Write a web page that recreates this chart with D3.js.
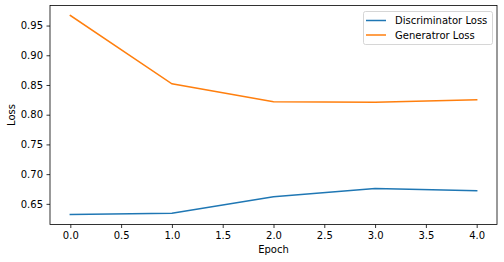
<!DOCTYPE html>
<html>
<head>
<meta charset="utf-8">
<script src="https://cdn.jsdelivr.net/npm/d3@7"></script>
<style>
  body { margin: 0; background: #fff; }
  svg { display: block; font-family: "DejaVu Sans", sans-serif; }
</style>
</head>
<body>
<svg id="graph" width="504" height="262"></svg>
<script>
const epochs = [0, 1, 2, 3, 4];
const discLoss = [0.632, 0.634, 0.662, 0.676, 0.672];
const genLoss = [0.967, 0.852, 0.822, 0.821, 0.825];
const xTicks = [0, 0.5, 1, 1.5, 2, 2.5, 3, 3.5, 4];
const yTicks = [0.65, 0.70, 0.75, 0.80, 0.85, 0.90, 0.95];
const seriesNames = ["Discriminator Loss", "Generatror Loss"];
const colors = ["#1f77b4", "#ff7f0e"];

const svg = d3.select("#graph");
const plotLeft = 50, plotRight = 497, plotTop = 5.5, plotBottom = 224.5;

// matplotlib style 5% margins
const yMin = d3.min(discLoss.concat(genLoss)), yMax = d3.max(discLoss.concat(genLoss));
const yPad = (yMax - yMin) * 0.05;
const x = d3.scaleLinear().domain([-0.2, 4.2]).range([plotLeft, plotRight]);
const y = d3.scaleLinear().domain([yMin - yPad, yMax + yPad]).range([plotBottom, plotTop]);

const xAxis = svg.append("g")
    .attr("transform", "translate(0," + plotBottom + ")")
    .call(d3.axisBottom(x).tickValues(xTicks).tickFormat(d3.format(".1f")).tickSize(3.5).tickPadding(3.5));
const yAxis = svg.append("g")
    .attr("transform", "translate(" + plotLeft + ",0)")
    .call(d3.axisLeft(y).tickValues(yTicks).tickFormat(d3.format(".2f")).tickSize(3.5).tickPadding(3.5));

[xAxis, yAxis].forEach(function(a) {
    a.select(".domain").remove();
    a.selectAll("line").attr("stroke", "#000").attr("stroke-width", 0.8);
    a.selectAll("text").attr("fill", "#000").style("font-size", "10px")
        .style("font-family", "DejaVu Sans, sans-serif");
});

// frame
svg.append("rect")
    .attr("x", plotLeft).attr("y", plotTop)
    .attr("width", plotRight - plotLeft).attr("height", plotBottom - plotTop)
    .attr("fill", "none").attr("stroke", "#000").attr("stroke-width", 0.8);

const line = d3.line()
    .x(function(d, i) { return x(epochs[i]); })
    .y(function(d) { return y(d); });

[discLoss, genLoss].forEach(function(s, i) {
    svg.append("path")
        .datum(s)
        .attr("d", line)
        .attr("fill", "none")
        .attr("stroke", colors[i])
        .attr("stroke-width", 1.5)
        .attr("stroke-linecap", "square");
});

// axis labels
svg.append("text")
    .attr("x", (plotLeft + plotRight) / 2).attr("y", 253)
    .attr("text-anchor", "middle")
    .style("font-size", "10px")
    .text("Epoch");
svg.append("text")
    .attr("transform", "translate(15," + ((plotTop + plotBottom) / 2) + ") rotate(-90)")
    .attr("text-anchor", "middle")
    .style("font-size", "10px")
    .text("Loss");

// legend
const legend = svg.append("g");
legend.append("rect")
    .attr("x", 363.5).attr("y", 11.5)
    .attr("width", 129).attr("height", 33)
    .attr("rx", 2)
    .attr("fill", "#fff").attr("fill-opacity", 0.8)
    .attr("stroke", "#ccc").attr("stroke-width", 0.8);
seriesNames.forEach(function(name, i) {
    const ly = 20.5 + i * 14.5;
    legend.append("line")
        .attr("x1", 366).attr("x2", 386)
        .attr("y1", ly).attr("y2", ly)
        .attr("stroke", colors[i]).attr("stroke-width", 1.5);
    legend.append("text")
        .attr("x", 395).attr("y", ly + 3.5)
        .style("font-size", "10px")
        .text(name);
});
</script>
</body>
</html>
